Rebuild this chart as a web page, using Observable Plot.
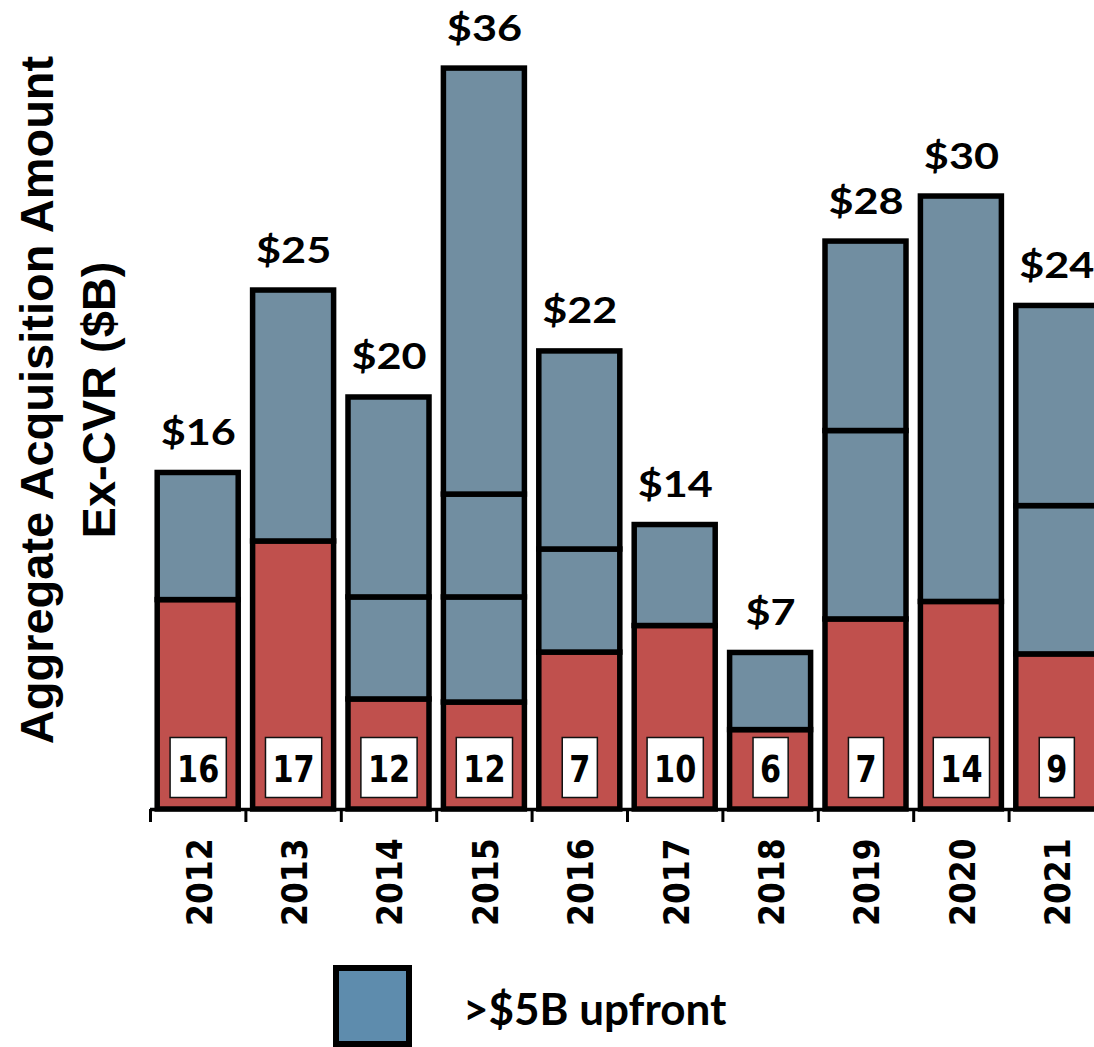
<!DOCTYPE html>
<html>
<head>
<meta charset="utf-8">
<script src="https://cdn.jsdelivr.net/npm/d3@7"></script>
<script src="https://cdn.jsdelivr.net/npm/@observablehq/plot@0.6"></script>
<style>
  html, body { margin: 0; padding: 0; background: #fff; overflow: hidden; width: 1094px; height: 1047px; }
  #chart svg { display: block; }
  #legend { display: block; }
</style>
</head>
<body>
<div id="chart"></div>
<svg id="legend" width="1094" height="97"></svg>
<script>
// ---- data ----
const years = [2012, 2013, 2014, 2015, 2016, 2017, 2018, 2019, 2020, 2021];
// value of deals below the >$5B threshold (red segment), $B
const smallDeals = [10.18, 13.03, 5.35, 5.20, 7.63, 8.92, 3.86, 9.24, 10.09, 7.54];
// individual >$5B upfront deals stacked above (blue segments), $B
const largeDeals = [
  [6.18],
  [12.2],
  [4.96, 9.72],
  [5.11, 5.0, 20.71],
  [5.01, 9.63],
  [4.91],
  [3.75],
  [9.16, 9.21],
  [19.71],
  [7.21, 9.73]
];
const totalLabels = ["$16", "$25", "$20", "$36", "$22", "$14", "$7", "$28", "$30", "$24"];
const dealCounts = [16, 17, 12, 12, 7, 10, 6, 7, 14, 9];
const yTitleLines = ["Aggregate Acquisition Amount", "Ex-CVR ($B)"];
const legendLabel = ">$5B upfront";

// ---- tables built from the arrays ----
const segments = [];
years.forEach((yr, i) => {
  let base = 0;
  const parts = [{v: smallDeals[i], kind: "small"}, ...largeDeals[i].map(v => ({v, kind: "large"}))];
  parts.forEach(p => { segments.push({year: yr, y1: base, y2: base + p.v, kind: p.kind}); base += p.v; });
});
const totals = years.map((yr, i) => ({year: yr, total: smallDeals[i] + d3.sum(largeDeals[i]), label: totalLabels[i]}));
const counts = years.map((yr, i) => ({year: yr, n: dealCounts[i]}));
const boundaries = [...years.map(y => y - 0.5), years[years.length - 1] + 0.5];

const RED = "#C0504D", BLUE = "#718EA1";

const plot = Plot.plot({
  width: 1094,
  height: 950,
  marginLeft: 150,
  marginRight: 0,
  marginTop: 0,
  marginBottom: 141,
  x: {type: "linear", domain: [2011.5, 2021.5], range: [150, 1104]},
  y: {domain: [0, 36], range: [809, 68.5], axis: null},
  color: {domain: ["small", "large"], range: [RED, BLUE]},
  style: {background: "#fff"},
  marks: [
    Plot.rect(segments, {
      x1: d => d.year - 0.5, x2: d => d.year + 0.5, y1: "y1", y2: "y2",
      fill: "kind", stroke: "#000", strokeWidth: 5.5, insetLeft: 7.2, insetRight: 7.2
    }),
    Plot.ruleY([0], {stroke: "#000", strokeWidth: 3.5}),
    Plot.axisX({ticks: boundaries, tickSize: 13, tickFormat: () => "", strokeWidth: 3, label: null, anchor: "bottom"}),
    Plot.text(years, {
      x: d => d, y: () => 0, text: d => String(d), rotate: -90, textAnchor: "end",
      dy: 29, dx: 2, fontFamily: "DejaVu Sans", fontWeight: "bold", fontSize: 35.7, fill: "#000"
    }),
    Plot.text(totals, {
      x: "year", y: "total", text: "label", lineAnchor: "bottom", dy: -28,
      fontFamily: "Lato", fontWeight: "bold", fontSize: 36, fill: "#000"
    }),
    Plot.text(counts, {
      x: "year", y: () => 0, text: d => String(d.n), lineAnchor: "middle", dy: -39,
      fontFamily: "DejaVu Sans", fontWeight: "bold", fontSize: 37, fill: "#000"
    })
  ]
});

document.getElementById("chart").append(plot);
const svg = d3.select(plot);
const NS = "http://www.w3.org/2000/svg";

// identify the three text marks by their content
const textGroups = svg.selectAll('g[aria-label="text"]').nodes();
const firstText = g => (g.querySelector("text") || {}).textContent || "";
const yearGroup = textGroups.find(g => firstText(g) === String(years[0]));
const totalGroup = textGroups.find(g => firstText(g) === totalLabels[0]);
const countGroup = textGroups.find(g => g !== yearGroup && g !== totalGroup);

d3.select(totalGroup).selectAll("text").each(function() {
  this.setAttribute("transform", this.getAttribute("transform") + " scale(1.2,1)");
});
d3.select(yearGroup).selectAll("text").each(function() {
  this.setAttribute("transform", this.getAttribute("transform") + " scale(0.88,1)");
});
d3.select(countGroup).selectAll("text").each(function() {
  const bb = this.getBBox();
  const t = this.getAttribute("transform");
  const sx = 0.82;
  const w = bb.width * sx + 14;
  const r = document.createElementNS(NS, "rect");
  r.setAttribute("transform", t);
  r.setAttribute("x", -w / 2);
  r.setAttribute("y", -33);
  r.setAttribute("width", w);
  r.setAttribute("height", 60);
  r.setAttribute("fill", "#fff");
  r.setAttribute("stroke", "#111");
  r.setAttribute("stroke-width", 1.5);
  this.parentNode.insertBefore(r, this);
  this.setAttribute("transform", t + " scale(" + sx + ",1)");
});

// y-axis title (two rotated lines)
yTitleLines.forEach((line, i) => {
  svg.append("text")
    .attr("transform", `translate(${53 + i * 62},400) rotate(-90)`)
    .attr("text-anchor", "middle")
    .attr("font-family", "'Liberation Sans', Arial, sans-serif")
    .attr("font-weight", "bold")
    .attr("font-size", 47)
    .attr("fill", "#000")
    .text(line);
});

// legend below the chart
const lg = d3.select("#legend");
lg.append("rect").attr("x", 336).attr("y", 18).attr("width", 73).attr("height", 76)
  .attr("fill", "#5E8CAD").attr("stroke", "#000").attr("stroke-width", 6);
lg.append("text").attr("x", 463).attr("y", 75)
  .attr("font-family", "Lato, sans-serif").attr("font-weight", "bold").attr("font-size", 44)
  .attr("fill", "#000").text(legendLabel);
</script>
</body>
</html>
